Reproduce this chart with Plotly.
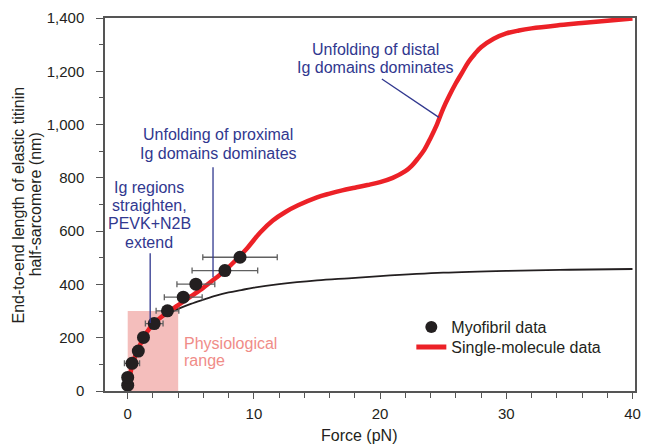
import plotly.graph_objects as go

# ---- data ----
myo_force = [0.0, 0.0, 0.34, 0.84, 1.25, 2.1, 3.15, 4.4, 5.4, 7.7, 8.9]
myo_length = [22, 51, 104, 150, 201, 253, 301, 352, 401, 452, 502]
myo_force_err = [0.0, 0.0, 0.6, 0.3, 0.3, 0.7, 0.9, 1.5, 1.5, 2.6, 2.95]

sm_force = [0, 0.1, 0.4, 0.9, 1.5, 2.2, 3, 4, 5, 6, 7, 7.7, 8.5, 9.5, 10.5, 11.5, 12.5,
            13.5, 15, 16, 17, 18, 19, 20, 21, 22, 22.5, 23, 23.5, 24, 24.5, 25, 25.5,
            26, 26.5, 27, 27.5, 28, 29, 30, 31, 32, 34, 36, 38, 40]
sm_length = [10, 40, 104, 165, 220, 260, 290, 322, 355, 388, 425, 452, 488, 538, 595,
             640, 672, 697, 727, 741, 753, 763, 773, 784, 800, 825, 845, 873, 905, 950,
             1000, 1060, 1110, 1155, 1195, 1235, 1265, 1290, 1322, 1342, 1353, 1361,
             1372, 1381, 1390, 1398]

model_force = [0, 0.1, 0.4, 0.9, 1.5, 2.2, 3, 4, 5, 6, 7, 8, 9, 10, 12, 15, 17.5, 20,
               25, 30, 35, 40]
model_length = [10, 40, 104, 165, 220, 256, 284, 308, 327, 343, 358, 370, 379, 388, 401,
                 415, 423, 431, 444, 451, 455, 458]

physio_force = [0, 4]
physio_length = [0, 300]

x_ticks = [0, 10, 20, 30, 40]
y_ticks = [0, 200, 400, 600, 800, 1000, 1200, 1400]

FONT = "Liberation Sans, Arial, Helvetica, sans-serif"
DARK = "#231f20"
BLUE = "#31388f"
PINK_TXT = "#f08c88"
PINK_BOX = "#f4bebc"
RED = "#ec2127"

fig = go.Figure()

fig.add_shape(type="rect", x0=physio_force[0], x1=physio_force[1],
              y0=physio_length[0], y1=physio_length[1],
              fillcolor=PINK_BOX, line_width=0, layer="below")

fig.add_trace(go.Scatter(x=model_force, y=model_length, mode="lines",
                         line=dict(color=DARK, width=1.8, shape="spline"),
                         showlegend=False, hoverinfo="skip"))
fig.add_trace(go.Scatter(x=sm_force, y=sm_length, mode="lines",
                         name="Single-molecule data", legend="legend2",
                         line=dict(color=RED, width=4.5, shape="spline")))
fig.add_trace(go.Scatter(x=myo_force, y=myo_length, mode="markers",
                         name="Myofibril data", legend="legend",
                         marker=dict(color=DARK, size=13),
                         error_x=dict(type="data", array=myo_force_err, color="#606060",
                                      thickness=1.3, width=3)))

# leader lines
line_style = dict(color=BLUE, width=1.3)
fig.add_shape(type="line", x0=1.78, x1=1.78, y0=517, y1=255, line=line_style)
fig.add_shape(type="line", x0=6.76, x1=6.76, y0=840, y1=427, line=line_style)
fig.add_shape(type="line", x0=20.14, x1=24.66, y0=1171, y1=1027, line=line_style)

ann = []
def txt(x, y, s, color, xanchor="center", size=16):
    ann.append(dict(x=x, y=y, xref="x", yref="y", text=s, showarrow=False,
                    xanchor=xanchor, yanchor="middle",
                    font=dict(family=FONT, size=size, color=color)))

txt(19.6, 1283, "Unfolding of distal", BLUE)
txt(19.6, 1214, "Ig domains dominates", BLUE)
txt(7.19, 962, "Unfolding of proximal", BLUE)
txt(7.19, 892, "Ig domains dominates", BLUE)
txt(1.72, 765, "Ig regions", BLUE)
txt(1.72, 696, "straighten,", BLUE)
txt(1.72, 628, "PEVK+N2B", BLUE)
txt(1.72, 559, "extend", BLUE)
txt(4.3, 180, "Physiological", PINK_TXT, xanchor="left")
txt(4.3, 116, "range", PINK_TXT, xanchor="left")

# axis titles
ann.append(dict(xref="paper", yref="paper", x=-0.1623, y=0.5, textangle=-90,
                text="End-to-end length of elastic titinin", showarrow=False,
                xanchor="center", yanchor="middle",
                font=dict(family=FONT, size=16, color=DARK)))
ann.append(dict(xref="paper", yref="paper", x=-0.1306, y=0.5, textangle=-90,
                text="half-sarcomere (nm)", showarrow=False,
                xanchor="center", yanchor="middle",
                font=dict(family=FONT, size=16, color=DARK)))
ann.append(dict(xref="paper", yref="paper", x=0.4795, y=-0.118,
                text="Force (pN)", showarrow=False,
                xanchor="center", yanchor="middle",
                font=dict(family=FONT, size=16, color=DARK)))

leg_common = dict(xanchor="left", yanchor="top", bgcolor="rgba(0,0,0,0)",
                  borderwidth=0, font=dict(family=FONT, size=16, color=DARK),
                  itemsizing="constant")
fig.update_layout(
    width=650, height=447,
    margin=dict(l=105, r=9, t=17, b=56),
    paper_bgcolor="white", plot_bgcolor="white",
    font=dict(family=FONT, size=15, color=DARK),
    annotations=ann,
    showlegend=True,
    legend=dict(x=0.578, y=0.2166, **leg_common),
    legend2=dict(x=0.578, y=0.163, **leg_common),
)
fig.update_xaxes(range=[-1.8, 40.2], tickvals=x_ticks, showgrid=False, zeroline=False,
                 showline=True, linecolor="#555", linewidth=1.5, mirror=True,
                 ticks="outside", ticklen=6, tickwidth=1.2, tickcolor="#555",
                 minor=dict(ticks="outside", ticklen=5, dtick=2, tick0=0,
                            tickcolor="#555", tickwidth=1.2),
                 tickfont=dict(size=15, color=DARK), ticklabelstandoff=2)
fig.update_yaxes(range=[0, 1400], tickvals=y_ticks, tickformat=",d", showgrid=False,
                 zeroline=False, showline=True, linecolor="#555", linewidth=1.5,
                 mirror=True, ticks="outside", ticklen=7, tickwidth=1.2, tickcolor="#555",
                 minor=dict(ticks="outside", ticklen=4, dtick=100, tick0=0,
                            tickcolor="#555", tickwidth=1.2),
                 tickfont=dict(size=15, color=DARK), ticklabelstandoff=9)

fig.write_html("out.html", config={"displayModeBar": False},
               post_script="document.body.style.margin='0';")
